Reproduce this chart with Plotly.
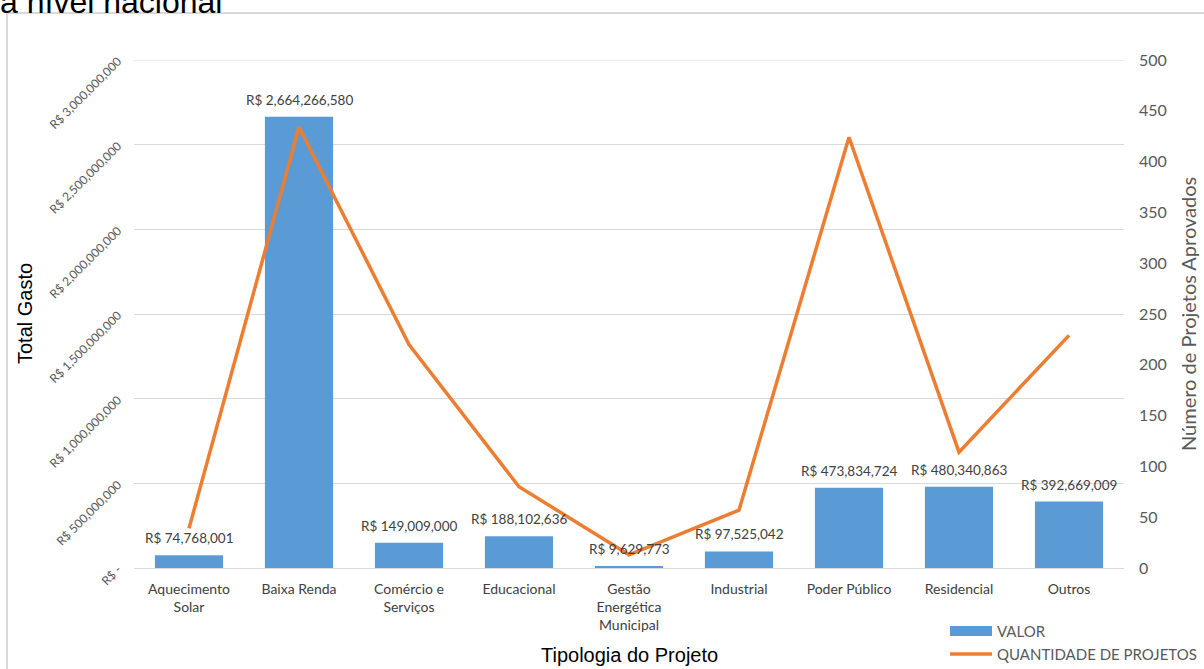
import plotly.graph_objects as go

# Project typologies (x categories)
categorias = [
    "Aquecimento<br>Solar", "Baixa Renda", "Comércio e<br>Serviços", "Educacional",
    "Gestão<br>Energética<br>Municipal", "Industrial", "Poder Público", "Residencial", "Outros",
]

# Total spent per typology (R$)
valor = [74768001, 2664266580, 149009000, 188102636, 9629773,
         97525042, 473834724, 480340863, 392669009]

# Number of approved projects per typology
quantidade = [39, 434, 220, 80, 13, 57, 424, 114, 229]

# Left axis ticks
tick_valor = [0, 500000000, 1000000000, 1500000000, 2000000000, 2500000000, 3000000000]
tick_valor_txt = ["R$ -", "R$ 500,000,000", "R$ 1,000,000,000", "R$ 1,500,000,000",
                  "R$ 2,000,000,000", "R$ 2,500,000,000", "R$ 3,000,000,000"]

AZUL = "#5B9BD5"
LARANJA = "#ED7D31"
CINZA = "#595959"
TEXTO = "#404040"
GRADE = "#D9D9D9"
FONTE = "Lato, Open Sans, sans-serif"
ARIAL = "Liberation Sans, Arial, sans-serif"

W, H = 1204, 669
ML, MR, MT, MB = 134, 80, 60, 101
PW, PH = W - ML - MR, H - MT - MB


def px(x):
    return (x - ML) / PW


def py(y):
    return (H - MB - y) / PH


fig = go.Figure()

fig.add_trace(go.Bar(
    x=categorias, y=valor, name="VALOR",
    marker=dict(color=AZUL, line=dict(width=0)),
    showlegend=False,
))

fig.add_trace(go.Scatter(
    x=categorias, y=quantidade, name="QUANTIDADE DE PROJETOS",
    mode="lines", yaxis="y2",
    line=dict(color=LARANJA, width=3.5),
    showlegend=False,
))

# Value labels above each bar
for c, v in zip(categorias, valor):
    fig.add_annotation(x=c, y=v, xref="x", yref="y", xanchor="center", yanchor="bottom",
                       yshift=7, text=f"R$ {v:,}", showarrow=False,
                       font=dict(family=FONTE, size=13.5, color=TEXTO))

fig.update_layout(
    width=W, height=H,
    margin=dict(l=ML, r=MR, t=MT, b=MB),
    paper_bgcolor="white", plot_bgcolor="white",
    bargap=0.38,
    font=dict(family=FONTE, color=CINZA),
    xaxis=dict(
        showgrid=False, showline=True, linecolor=GRADE, linewidth=1,
        ticks="", tickfont=dict(family=FONTE, size=14, color=TEXTO),
        ticklabelstandoff=8, automargin=False,
    ),
    yaxis=dict(
        range=[0, 3000000000], tickvals=tick_valor, ticktext=tick_valor_txt,
        tickangle=-45, tickfont=dict(family=FONTE, size=12, color=CINZA),
        showgrid=True, gridcolor=GRADE, gridwidth=1, zeroline=False,
        showline=False, ticks="", ticklabelstandoff=15, automargin=False,
    ),
    yaxis2=dict(
        range=[0, 500], dtick=50, overlaying="y", side="right",
        showgrid=False, zeroline=False, showline=False, ticks="",
        tickfont=dict(family=FONTE, size=16, color=CINZA),
        ticklabelstandoff=14, automargin=False,
    ),
)

# Top gridline at the axis maximum
fig.add_shape(type="line", xref="paper", yref="y", x0=0, x1=1,
              y0=tick_valor[-1], y1=tick_valor[-1],
              line=dict(color=GRADE, width=1), layer="below")

# Outer chart frame
fig.add_shape(type="rect", xref="paper", yref="paper",
              x0=px(7), x1=px(1230), y0=py(700), y1=py(13),
              line=dict(color=GRADE, width=2), fillcolor="rgba(0,0,0,0)", layer="below")

# Title fragment at the top
fig.add_annotation(xref="paper", yref="paper", x=px(-2), y=py(0), xanchor="left", yanchor="middle",
                   yshift=-2, text="a nível nacional", showarrow=False,
                   font=dict(family=ARIAL, size=32, color="#000000"))

# Axis titles
fig.add_annotation(xref="paper", yref="paper", x=px(25), y=py(314), xanchor="center", yanchor="middle",
                   textangle=-90, text="Total Gasto", showarrow=False,
                   font=dict(family=ARIAL, size=20, color="#000000"))
fig.add_annotation(xref="paper", yref="paper", x=px(1188), y=py(314), xanchor="center", yanchor="middle",
                   textangle=-90, text="Número de Projetos Aprovados", showarrow=False,
                   font=dict(family=FONTE, size=20, color=CINZA))
fig.add_annotation(xref="paper", yref="paper", x=px(629), y=py(655), xanchor="center", yanchor="middle",
                   text="Tipologia do Projeto", showarrow=False,
                   font=dict(family=ARIAL, size=20, color="#000000"))

# Legend
fig.add_shape(type="rect", xref="paper", yref="paper",
              x0=px(950), x1=px(992), y0=py(636), y1=py(626),
              line=dict(width=0), fillcolor=AZUL)
fig.add_shape(type="line", xref="paper", yref="paper",
              x0=px(950), x1=px(992), y0=py(654), y1=py(654),
              line=dict(color=LARANJA, width=3.5))
fig.add_annotation(xref="paper", yref="paper", x=px(995), y=py(631), xanchor="left", yanchor="middle",
                   text="VALOR", showarrow=False,
                   font=dict(family=FONTE, size=15, color=CINZA))
fig.add_annotation(xref="paper", yref="paper", x=px(995), y=py(654), xanchor="left", yanchor="middle",
                   text="QUANTIDADE DE PROJETOS", showarrow=False,
                   font=dict(family=FONTE, size=15, color=CINZA))

fig.write_html("out.html")
